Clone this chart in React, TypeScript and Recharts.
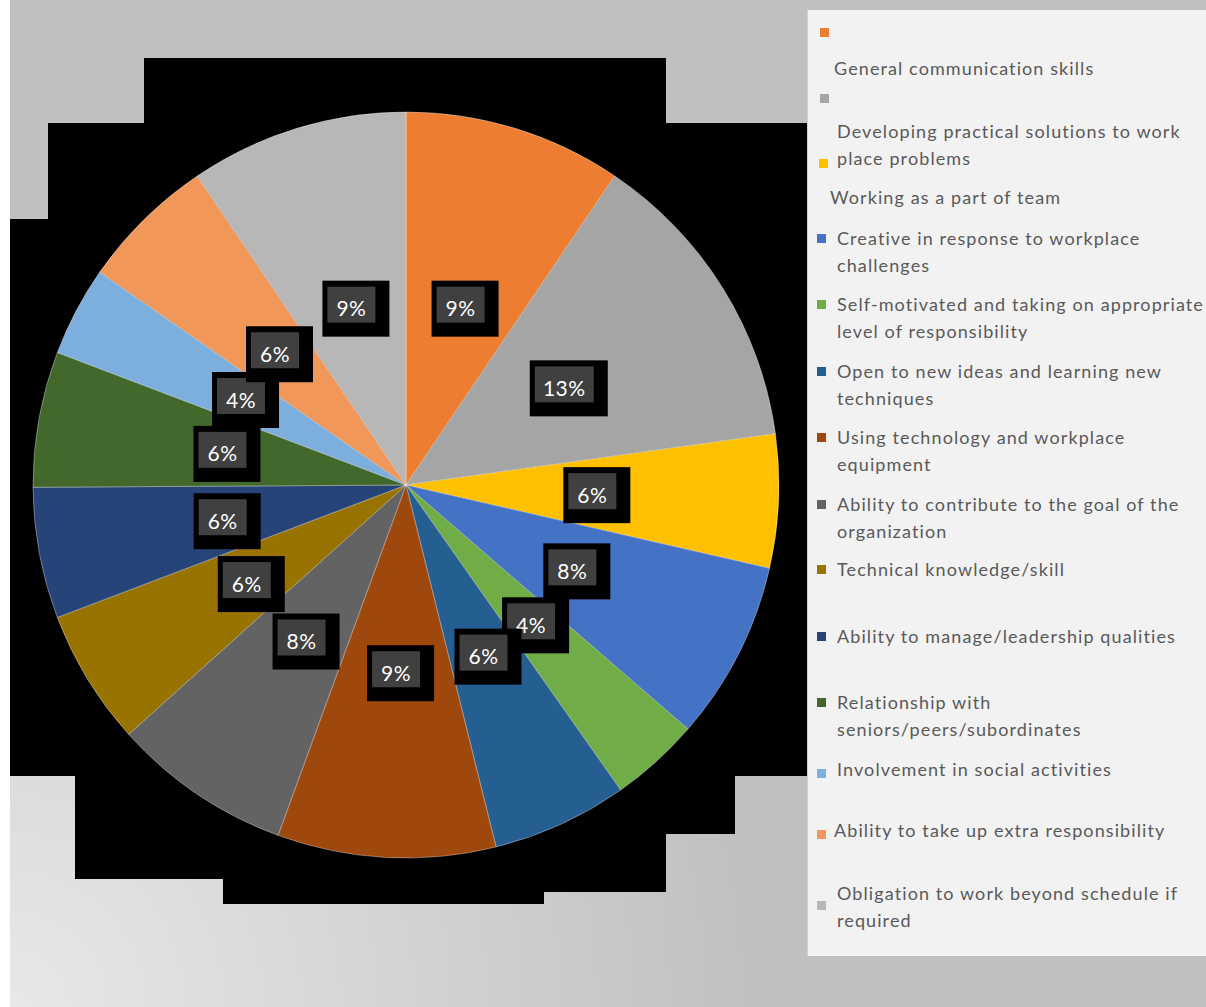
import React from 'react';
import { PieChart, Pie, Cell, Legend } from 'recharts';

const categories = [
  'General communication skills',
  'Developing practical solutions to work place problems',
  'Working as a part of team',
  'Creative in response to workplace challenges',
  'Self-motivated and taking on appropriate level of responsibility',
  'Open to new ideas and learning new techniques',
  'Using technology and workplace equipment',
  'Ability to contribute to the goal of the organization',
  'Technical knowledge/skill',
  'Ability to manage/leadership qualities',
  'Relationship with seniors/peers/subordinates',
  'Involvement in social activities',
  'Ability to take up extra responsibility',
  'Obligation to work beyond schedule if required',
];

// share of responses, in percent
const shares = [9.49, 13.4, 5.8, 7.8, 3.9, 5.9, 9.49, 7.8, 5.9, 5.7, 5.9, 3.9, 5.9, 9.49];

const colors = [
  '#ED7D31', '#A5A5A5', '#FFC000', '#4472C4', '#70AD47', '#255E91', '#9E480E',
  '#636363', '#997300', '#264478', '#43682B', '#7CAFDD', '#F1975A', '#B7B7B7',
];

// number of words on the first legend line (0 = single line)
const firstLineWords = [0, 5, 0, 5, 5, 7, 4, 8, 0, 0, 2, 0, 0, 6];

const data = categories.map((name, i) => ({ name, value: shares[i] }));

// legend layout inside the box: marker centre (mx, my), text x and first-line centre y
const legendRows = [
  { mx: 16, my: 22, tx: 26, ty: 58 },
  { mx: 16, my: 88, tx: 29, ty: 121 },
  { mx: 15, my: 153, tx: 22, ty: 187 },
  { mx: 13, my: 228, tx: 29, ty: 228 },
  { mx: 13, my: 294, tx: 29, ty: 294 },
  { mx: 13, my: 361, tx: 29, ty: 361 },
  { mx: 13, my: 427, tx: 29, ty: 427 },
  { mx: 13, my: 494, tx: 29, ty: 494 },
  { mx: 13, my: 559, tx: 29, ty: 559 },
  { mx: 13, my: 626, tx: 29, ty: 626 },
  { mx: 13, my: 692, tx: 29, ty: 692 },
  { mx: 13, my: 763, tx: 29, ty: 759 },
  { mx: 13, my: 824, tx: 26, ty: 820 },
  { mx: 13, my: 895, tx: 29, ty: 883 },
];

const FONT = 'Lato, "Open Sans", sans-serif';
const RAD = Math.PI / 180;

const renderLabel = (props: any) => {
  const { cx, cy, midAngle, outerRadius, percent } = props;
  const r = outerRadius * 0.5;
  const x = cx + r * Math.cos(-midAngle * RAD);
  const y = cy + r * Math.sin(-midAngle * RAD);
  const text = `${Math.round(percent * 100)}%`;
  const tw = text.length * 11 + 10;
  return (
    <g>
      <rect x={x - tw / 2 - 13} y={y - 26} width={tw + 35} height={56} fill="#000" />
      <rect x={x - tw / 2 - 8} y={y - 20} width={tw + 16} height={36} fill="#404040" />
      <text x={x} y={y + 1} fill="#fff" textAnchor="middle" dominantBaseline="central"
        fontSize={21} letterSpacing={0.5} fontFamily={FONT}>
        {text}
      </text>
    </g>
  );
};

// legend follows the data order (Recharts sorts its payload by name)
const renderLegend = () => (
  <div style={{ position: 'relative', width: 399, height: 946, background: '#f2f2f2', borderLeft: '1px solid #d0d0d0', overflow: 'hidden', fontFamily: FONT, fontSize: 18, letterSpacing: 1.1, color: '#595959' }}>
    {data.map((d, i) => {
      const row = legendRows[i];
      const words = d.name.split(' ');
      const n = firstLineWords[i];
      const lines = n > 0 ? [words.slice(0, n).join(' '), words.slice(n).join(' ')] : [d.name];
      return (
        <React.Fragment key={d.name}>
          <div style={{ position: 'absolute', left: row.mx - 4, top: row.my - 4, width: 9, height: 9, background: colors[i] }} />
          <div style={{ position: 'absolute', left: row.tx, top: row.ty - 13.5, lineHeight: '27px', whiteSpace: 'nowrap' }}>
            {lines.map((l, j) => <div key={j}>{l}</div>)}
          </div>
        </React.Fragment>
      );
    })}
  </div>
);

// stepped black backdrop behind the pie
const backdrop = [
  [144, 58, 666, 123],
  [48, 123, 807, 219],
  [10, 219, 807, 776],
  [75, 776, 735, 834],
  [75, 834, 666, 879],
  [223, 879, 666, 892],
  [223, 892, 544, 904],
];

export default function App() {
  return (
    <div style={{ position: 'absolute', left: 0, top: 0, width: 1206, height: 1007, background: '#fff', overflow: 'hidden', fontFamily: FONT }}>
      <div style={{ position: 'absolute', left: 10, top: 0, width: 1196, height: 1007, background: 'radial-gradient(circle at 0% 100%, #e8e8e8 0px, #d6d6d6 350px, #c0c0c0 750px)' }} />
      <svg width={1206} height={1007} style={{ position: 'absolute', left: 0, top: 0 }}>
        {backdrop.map(([x1, y1, x2, y2], i) => (
          <rect key={i} x={x1} y={y1} width={x2 - x1} height={y2 - y1} fill="#000" />
        ))}
      </svg>
      <div style={{ position: 'absolute', left: 0, top: 0 }}>
        <PieChart width={1206} height={1007} margin={{ top: 0, right: 0, bottom: 0, left: 0 }}>
          <Pie
            data={data}
            dataKey="value"
            nameKey="name"
            cx={406}
            cy={485}
            outerRadius={373}
            startAngle={90}
            endAngle={-270}
            label={renderLabel}
            labelLine={false}
            stroke="rgba(255,255,255,0.35)"
            strokeWidth={1}
            isAnimationActive={false}
          >
            {data.map((d, i) => <Cell key={d.name} fill={colors[i]} />)}
          </Pie>
          <Legend
            layout="vertical"
            verticalAlign="middle"
            align="right"
            content={renderLegend}
            wrapperStyle={{ left: 807, top: 10, width: 399, height: 946 }}
          />
        </PieChart>
      </div>
    </div>
  );
}
